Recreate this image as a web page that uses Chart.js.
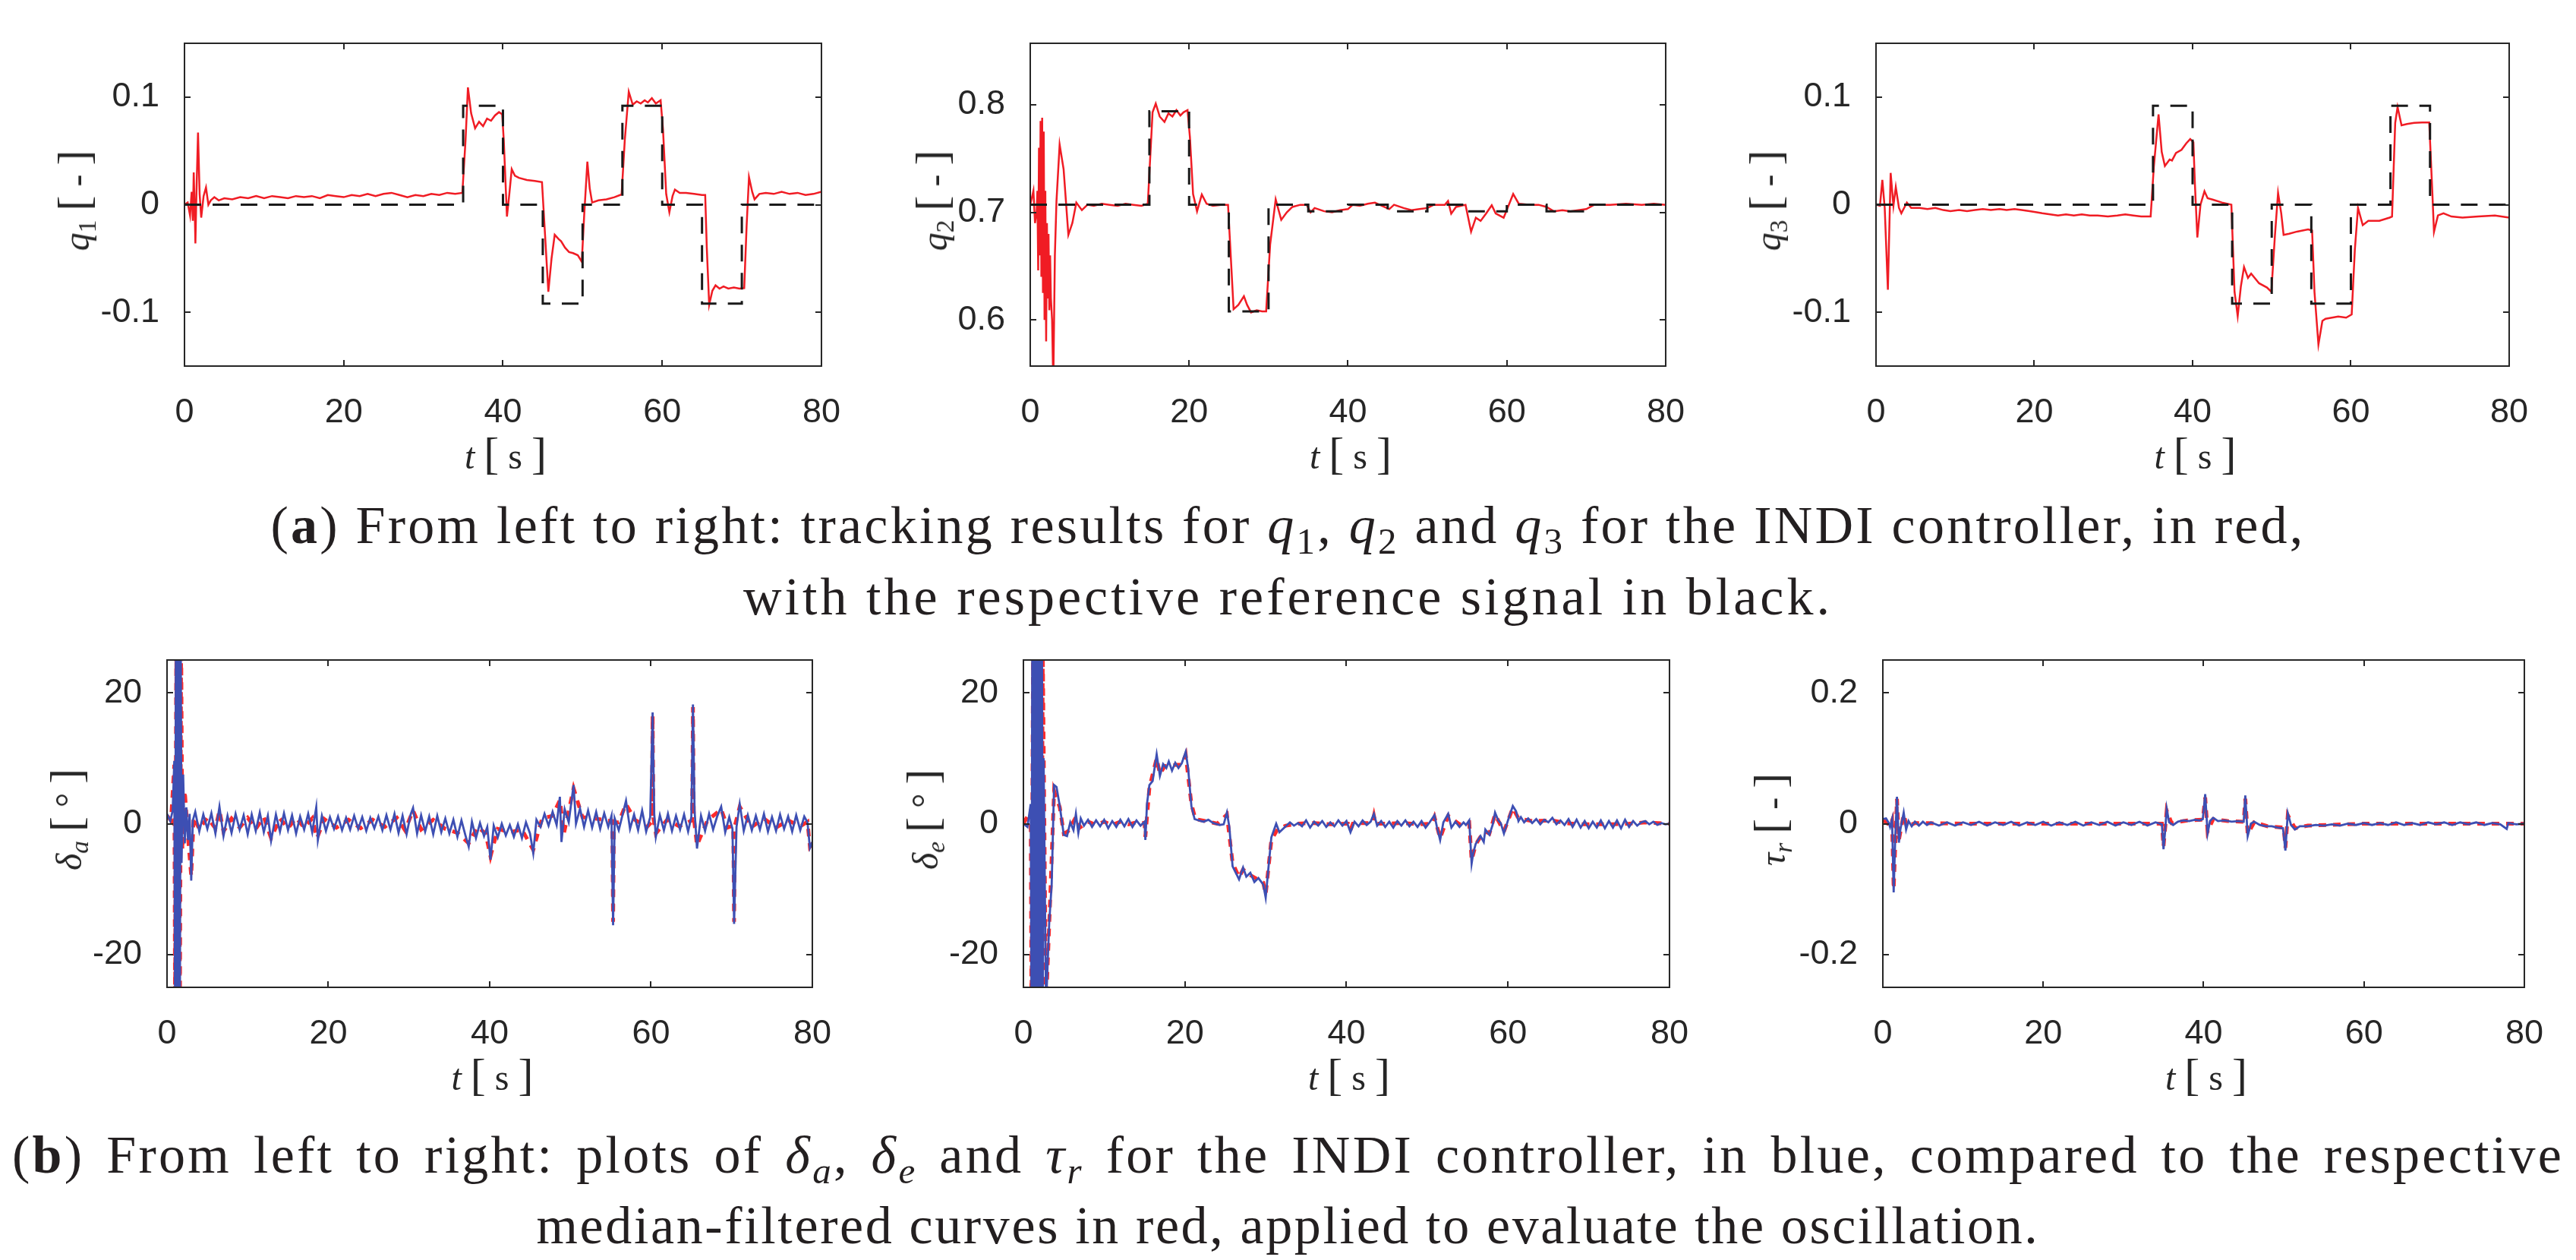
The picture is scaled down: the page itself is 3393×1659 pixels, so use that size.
<!DOCTYPE html>
<html>
<head>
<meta charset="utf-8">
<script src="https://cdn.jsdelivr.net/npm/chart.js@4.4.1/dist/chart.umd.min.js"></script>
<style>
  body { margin: 0; background: #fff; }
  #figure { position: relative; width: 3393px; height: 1659px; overflow: hidden; background: #fff; }
  canvas { position: absolute; }
  .axis-title {
    position: absolute;
    font-family: "Liberation Serif", "DejaVu Serif", serif;
    font-size: 48px;
    color: #262626;
    white-space: nowrap;
    line-height: 1;
  }
  .axis-title .br { font-size: 1.25em; font-weight: 300; }
  .axis-title sub, .caption-line sub {
    font-size: 0.7em;
    vertical-align: baseline;
    position: relative;
    top: 0.28em;
  }
  .caption-line {
    position: absolute;
    left: 0;
    width: 3393px;
    text-align: center;
    font-family: "Liberation Serif", "DejaVu Serif", serif;
    font-size: 70px;
    line-height: 94px;
    color: #231f20;
    white-space: nowrap;
  }
</style>
</head>
<body>
<div id="figure">
  <canvas id="q1Chart"></canvas>
  <canvas id="q2Chart"></canvas>
  <canvas id="q3Chart"></canvas>
  <canvas id="daChart"></canvas>
  <canvas id="deChart"></canvas>
  <canvas id="trChart"></canvas>

  <div class="caption-line" style="top:645px"><span data-width="2680">(<b>a</b>) From left to right: tracking results for <i>q</i><sub>1</sub>, <i>q</i><sub>2</sub> and <i>q</i><sub>3</sub> for the INDI controller, in red,</span></div>
  <div class="caption-line" style="top:739px"><span data-width="1435">with the respective reference signal in black.</span></div>
  <div class="caption-line" style="top:1474px"><span data-width="3361" data-justify="1">(<b>b</b>) From left to right: plots of <i>δ<sub>a</sub></i>, <i>δ<sub>e</sub></i> and <i>τ<sub>r</sub></i> for the INDI controller, in blue, compared to the respective</span></div>
  <div class="caption-line" style="top:1567px"><span data-width="1980">median-filtered curves in red, applied to evaluate the oscillation.</span></div>
</div>

<script>
const AXIS_COLOR = "#262626";
const TICK_LEN = 8;

// time axis, shared by all six panels
const T_MIN = 0;
const T_MAX = 80;
const T_TICKS = [0, 20, 40, 60, 80];

// y axes
const Q_RANGE = [-0.15, 0.15];
const Q_TICKS = [-0.1, 0, 0.1];
const Q_TICK_LABELS = ["-0.1", "0", "0.1"];
const Q2_RANGE = [0.5571, 0.8571];
const Q2_TICKS = [0.6, 0.7, 0.8];
const Q2_TICK_LABELS = ["0.6", "0.7", "0.8"];
const DEFL_RANGE = [-25, 25];
const DEFL_TICKS = [-20, 0, 20];
const DEFL_TICK_LABELS = ["-20", "0", "20"];
const TR_RANGE = [-0.25, 0.25];
const TR_TICKS = [-0.2, 0, 0.2];
const TR_TICK_LABELS = ["-0.2", "0", "0.2"];

// (a) tracking: [t, value]
const q1Reference = [[0,0],[35,0],[35,0.092],[40,0.092],[40,0],[45,0],[45,-0.092],[50,-0.092],[50,0],[55,0],[55,0.092],[60,0.092],[60,0],[65,0],[65,-0.092],[70,-0.092],[70,0],[80,0]];
const q1Measured = [[0,0],[0.4,0.002],[0.7,-0.01],[0.9,0.012],[1.05,-0.015],[1.16,0.03],[1.3,-0.01],[1.37,-0.036],[1.5,0.01],[1.7,0.067],[1.9,0.01],[2.1,-0.012],[2.4,0.008],[2.7,0.016],[3.0,0.0],[3.3,0.004],[3.75,0.007],[4.3,0.004],[5,0.006],[6,0.005],[7,0.007],[8,0.006],[9,0.008],[10,0.006],[11,0.008],[12,0.007],[13,0.006],[14,0.008],[15,0.007],[16,0.008],[17,0.006],[18,0.009],[19,0.008],[20,0.007],[21,0.009],[22,0.008],[23,0.01],[24,0.008],[25,0.01],[26,0.011],[27,0.009],[28,0.007],[29,0.009],[30,0.008],[31,0.01],[32,0.009],[33,0.011],[34,0.01],[34.9,0.011],[35.3,0.06],[35.6,0.109],[36.0,0.085],[36.5,0.071],[37,0.077],[37.5,0.073],[38,0.08],[38.5,0.078],[39,0.083],[39.5,0.086],[39.9,0.084],[40.1,0.06],[40.5,-0.011],[40.8,0.01],[41.1,0.033],[41.5,0.027],[42,0.025],[43,0.023],[44,0.022],[44.9,0.021],[45.3,-0.03],[45.7,-0.081],[46.1,-0.05],[46.5,-0.028],[47,-0.032],[47.3,-0.034],[47.8,-0.04],[48.3,-0.044],[48.8,-0.045],[49.4,-0.047],[49.9,-0.053],[50.2,-0.01],[50.6,0.04],[50.9,0.015],[51.2,0.002],[52,0.004],[53,0.005],[54,0.007],[54.9,0.0095],[55.3,0.06],[55.8,0.105],[56.3,0.093],[56.8,0.096],[57.3,0.094],[57.8,0.097],[58.2,0.095],[58.7,0.099],[59.2,0.094],[59.8,0.097],[60.1,0.07],[60.5,0.01],[60.9,-0.007],[61.3,0.008],[61.6,0.014],[62.2,0.011],[63,0.011],[64,0.01],[65,0.009],[65.4,0.009],[65.6,-0.04],[65.9,-0.093],[66.3,-0.08],[66.7,-0.075],[67.2,-0.078],[67.7,-0.076],[68.3,-0.078],[69,-0.077],[69.7,-0.078],[70.3,-0.0775],[70.6,-0.02],[70.9,0.0256],[71.3,0.012],[71.6,0.005],[72.2,0.01],[73,0.011],[74,0.01],[75,0.012],[76,0.01],[77,0.011],[78,0.009],[79,0.01],[80,0.012]];

const q2Reference = [[0,0.7071],[15,0.7071],[15,0.794],[20,0.794],[20,0.7071],[25,0.7071],[25,0.608],[30,0.608],[30,0.7071],[35,0.7071],[35,0.701],[40,0.701],[40,0.7071],[45,0.7071],[45,0.701],[50,0.701],[50,0.7071],[55,0.7071],[55,0.701],[60,0.701],[60,0.7071],[65,0.7071],[65,0.701],[70,0.701],[70,0.7071],[80,0.7071]];
const q2Measured = [[0,0.7071],[0.4,0.72],[0.6,0.69],[0.8,0.70],[0.9,0.72],[1.0,0.646],[1.1,0.76],[1.2,0.66],[1.3,0.785],[1.4,0.64],[1.5,0.788],[1.6,0.625],[1.7,0.775],[1.8,0.6],[1.9,0.72],[2.0,0.58],[2.1,0.69],[2.2,0.62],[2.3,0.68],[2.4,0.609],[2.5,0.66],[2.6,0.62],[2.75,0.6],[2.9,0.54],[3.1,0.66],[3.3,0.71],[3.7,0.763],[4.2,0.74],[4.8,0.679],[5.3,0.69],[5.8,0.709],[6.5,0.702],[7.2,0.707],[8,0.706],[9,0.708],[10,0.707],[11,0.706],[12,0.708],[13,0.707],[14,0.706],[14.8,0.708],[15.4,0.793],[15.8,0.801],[16.3,0.789],[16.9,0.784],[17.4,0.792],[17.9,0.789],[18.4,0.795],[18.9,0.79],[19.3,0.793],[19.8,0.795],[20.1,0.77],[20.5,0.717],[21,0.701],[21.6,0.7165],[22.2,0.708],[23,0.706],[24,0.707],[24.9,0.707],[25.6,0.61],[26.2,0.614],[26.9,0.622],[27.3,0.614],[27.8,0.607],[28.5,0.609],[29.2,0.608],[29.7,0.608],[30.2,0.67],[30.9,0.712],[31.6,0.693],[32.3,0.700],[33,0.705],[34,0.707],[34.8,0.707],[35.3,0.700],[35.8,0.704],[37,0.701],[38,0.700],[39,0.702],[40,0.703],[40.6,0.707],[41.5,0.706],[42.5,0.708],[43.4,0.709],[44.3,0.706],[45.2,0.703],[45.8,0.707],[47,0.704],[48,0.702],[49,0.703],[50,0.704],[50.8,0.707],[52.2,0.707],[52.6,0.7105],[53,0.6987],[53.6,0.705],[54.8,0.707],[55.5,0.682],[56.1,0.695],[56.7,0.692],[57.4,0.699],[58.1,0.7066],[58.6,0.699],[59.6,0.695],[60.8,0.717],[61.5,0.708],[63,0.707],[64,0.707],[65,0.705],[65.9,0.701],[67,0.702],[68,0.701],[69,0.702],[70,0.703],[71,0.707],[73,0.707],[75,0.708],[77,0.707],[78.5,0.708],[80,0.707]];

const q3Reference = [[0,0],[35,0],[35,0.092],[40,0.092],[40,0],[45,0],[45,-0.092],[50,-0.092],[50,0],[55,0],[55,-0.092],[60,-0.092],[60,0],[65,0],[65,0.092],[70,0.092],[70,0],[80,0]];
const q3Measured = [[0,0],[0.5,-0.001],[0.8,0.023],[1.1,-0.003],[1.5,-0.079],[1.85,0.0295],[2.2,-0.001],[2.5,0.0164],[2.9,-0.003],[3.2,-0.008],[3.9,0.002],[4.45,-0.003],[5.5,-0.003],[6.5,-0.004],[7.5,-0.003],[8.5,-0.005],[9.4,-0.006],[10.5,-0.005],[11.5,-0.006],[12.5,-0.005],[13.5,-0.004],[14.5,-0.005],[15.6,-0.004],[16.5,-0.005],[17.5,-0.004],[18.4,-0.005],[19.4,-0.006],[20.3,-0.007],[21,-0.008],[22,-0.009],[23,-0.01],[24,-0.009],[25,-0.01],[26,-0.009],[27,-0.01],[28,-0.01],[29.3,-0.011],[30.5,-0.010],[31.5,-0.009],[32.5,-0.010],[33.5,-0.011],[34.7,-0.011],[35.1,0.035],[35.7,0.084],[36.1,0.049],[36.5,0.036],[37.1,0.042],[37.4,0.041],[37.9,0.048],[38.6,0.051],[39.2,0.057],[39.7,0.061],[40.1,0.058],[40.3,0.018],[40.6,-0.0305],[41.0,0.0],[41.5,0.0125],[41.9,0.006],[42.6,0.0046],[43.7,0.002],[44.9,0.0],[45.3,-0.081],[45.7,-0.1035],[46.1,-0.076],[46.5,-0.058],[47,-0.068],[47.4,-0.064],[48.4,-0.073],[49.4,-0.077],[49.95,-0.081],[50.4,-0.029],[50.8,0.011],[51.2,-0.008],[51.5,-0.028],[52.2,-0.027],[53.2,-0.025],[54.6,-0.023],[55.1,-0.024],[55.4,-0.081],[55.9,-0.13],[56.4,-0.108],[56.8,-0.106],[57.6,-0.105],[58.4,-0.104],[59.4,-0.105],[60.1,-0.102],[60.5,-0.042],[60.9,-0.003],[61.5,-0.019],[62.2,-0.015],[63.6,-0.015],[64.9,-0.012],[65.2,-0.011],[65.6,0.076],[65.9,0.0907],[66.4,0.0738],[67.1,0.075],[68,0.076],[69,0.0764],[69.9,0.0764],[70.3,0.01],[70.5,-0.0253],[71,-0.01],[71.7,-0.008],[72.7,-0.011],[74.1,-0.012],[76.1,-0.011],[78.2,-0.01],[80,-0.012]];

// (b) control inputs: raw in blue, median-filtered in red, [t, value]
const daRaw = [[0,1.5],[0.4,0.4],[0.7,2],[0.9,9.6],[1.0,-28],[1.1,28],[1.2,-28],[1.3,28],[1.4,-28],[1.5,28],[1.6,-28],[1.7,28],[1.8,-6],[2.0,7.5],[2.2,-3],[2.4,2.5],[2.6,-2.5],[2.8,1.5],[3.0,-8.7],[3.2,0.5],[3.5,1.8],[4,-1.2],[4.5,1.4],[5,-0.8],[5.5,1.6],[6,-1.5],[6.5,2.6],[7,-1.9],[7.5,1.2],[8,-1.4],[8.5,1.5],[9,-0.9],[9.5,1.3],[10,-1.6],[10.5,1.4],[11,-1.1],[11.5,1.7],[12,-1.3],[12.5,1.2],[12.9,-2.6],[13.5,1.4],[14,-1.2],[14.5,1.6],[15,-1.0],[15.5,1.3],[16,-1.5],[16.5,1.1],[17,-0.9],[17.5,1.5],[18,-1.3],[18.5,2.5],[18.7,-2.5],[19.2,1.2],[19.7,-1.1],[20.2,1.0],[20.7,-0.8],[21.2,1.1],[21.7,-1.0],[22.2,0.9],[22.7,-0.9],[23.2,1.2],[23.7,-0.8],[24.2,1.0],[24.7,-1.1],[25.2,0.9],[25.7,-0.7],[26.2,1.1],[26.7,-1.0],[27.2,1.3],[27.7,-0.9],[28.2,1.5],[28.7,-1.4],[29.2,1.2],[29.7,-1.6],[30.2,1.4],[30.5,2.4],[31,-1.5],[31.5,1.3],[32,-1.2],[32.5,1.1],[33,-1.6],[33.5,1.2],[34,-1.3],[34.5,0.8],[35,-1.5],[35.5,0.6],[36,-2.0],[36.5,0.5],[37,-1.8],[37.4,-3.5],[37.8,0.3],[38.3,-2.2],[38.8,0.1],[39.3,-1.9],[39.7,-0.5],[40.1,-5.5],[40.5,-0.3],[41,-2.1],[41.5,0],[42,-1.8],[42.5,-0.2],[43,-2.0],[43.5,-0.1],[44,-2.2],[44.5,0.2],[45,-1.5],[45.4,-4.5],[45.8,0.6],[46.3,-0.5],[46.8,1.5],[47.3,-0.3],[47.8,1.8],[48.3,-0.2],[48.7,4.1],[48.9,-2.8],[49.3,2.2],[49.8,0.2],[50.4,5.9],[50.7,0],[51.2,2.3],[51.7,-0.5],[52.2,2.0],[52.7,-0.6],[53.2,1.8],[53.7,-0.8],[54.2,1.6],[54.7,-0.5],[55.1,1.2],[55.3,-15.5],[55.5,0.8],[56,-1.0],[56.5,1.5],[56.9,3.5],[57.4,-0.8],[57.9,1.4],[58.4,-1.0],[58.9,2.0],[59.4,-1.2],[59.9,1.0],[60.2,17],[60.4,1.5],[60.6,-2],[61.1,1.3],[61.6,-1.0],[62.1,1.5],[62.6,-1.1],[63.1,1.2],[63.6,-0.9],[64.1,1.4],[64.6,-1.2],[65,1.0],[65.2,18.2],[65.4,2],[65.7,-3.8],[66.2,1.2],[66.7,-1.1],[67.2,1.5],[67.7,-0.9],[68.2,1.1],[68.7,2.6],[69.2,-1.3],[69.7,1.0],[70.1,-0.8],[70.3,-15.3],[70.6,-0.5],[71,3.0],[71.5,-1.1],[72,1.3],[72.5,-1.0],[73,1.2],[73.5,-0.9],[74,1.5],[74.5,-1.2],[75,1.0],[75.5,-1.1],[76,1.4],[76.5,-0.8],[77,1.1],[77.5,-1.2],[78,1.3],[78.5,-1.0],[79,1.1],[79.4,0.2],[79.7,-3.7],[80,-2.8]];
const daFiltered = [[0,1.2],[0.5,0.5],[0.9,9],[1.0,-28],[1.15,28],[1.3,-28],[1.45,28],[1.6,-28],[1.75,28],[1.9,-4],[2.2,5],[2.6,-2],[3.0,-8],[3.3,1],[4,-0.8],[5,0.9],[6,-0.7],[6.5,2.0],[7,-1.2],[8,0.8],[9,-0.6],[10,0.9],[11,-0.8],[12,1.0],[12.9,-2.2],[14,0.8],[15,-0.7],[16,0.9],[17,-0.6],[18,0.8],[18.6,-2.2],[19.5,0.7],[21,-0.6],[22.5,0.6],[24,-0.7],[25.5,0.6],[27,-0.5],[28.5,0.9],[29.5,-1.0],[30.5,2.0],[31.5,-0.9],[33,0.6],[34.5,-0.8],[36,-1.4],[37.4,-3.0],[38.5,-0.5],[39.5,-1.5],[40.1,-5.0],[41,-0.8],[42.5,-1.3],[44,-0.9],[45.4,-4.0],[46.5,0.8],[47.8,1.2],[48.7,3.6],[49.2,-1.5],[50.4,5.4],[51.5,1.0],[53,0.8],[54.5,0.5],[55.2,0.4],[55.3,-15],[55.4,0.2],[56,0.2],[56.9,3.0],[58,0.6],[59.5,-0.5],[60.1,0.3],[60.2,16.5],[60.3,0.8],[60.6,-1.5],[62,0.6],[63.5,-0.4],[65.1,0.5],[65.2,17.8],[65.3,1.0],[65.7,-3.3],[67,0.5],[68.7,2.2],[69.5,-0.6],[70.2,-0.3],[70.3,-15],[70.4,-0.3],[71,2.6],[72.5,-0.5],[74,0.8],[75.5,-0.6],[77,0.5],[78.5,-0.4],[79.4,0.3],[79.7,-3.5],[80,-3]];

const deRaw = [[0,0],[0.5,-0.5],[0.9,3],[1.0,-28],[1.1,28],[1.2,-28],[1.3,28],[1.4,-28],[1.5,28],[1.6,-28],[1.7,28],[1.8,-28],[1.9,28],[2.0,-28],[2.1,28],[2.2,-28],[2.3,28],[2.4,-28],[2.5,10],[2.8,-28],[3.2,-15],[3.5,-9.3],[3.7,1],[3.8,5.9],[4.1,5.6],[4.5,2.7],[5,-1.7],[5.4,-1.9],[5.8,0.2],[6.2,-1.0],[6.5,1.5],[6.8,-1.4],[7.1,0.8],[7.5,-0.3],[8,0.6],[8.5,-0.5],[9,0.5],[9.5,-0.4],[10,0.6],[10.5,-0.7],[11,0.4],[11.5,-0.5],[12,0.6],[12.5,-0.4],[13,0.7],[13.5,-0.5],[14,0.5],[14.5,-0.3],[15.0,0.3],[15.1,-2.5],[15.3,3],[15.6,5.9],[16.0,6.5],[16.5,10.6],[16.9,7.3],[17.3,9.1],[17.7,8.5],[18.0,9.5],[18.4,8.1],[18.8,9.3],[19.2,8.5],[19.6,9.2],[20.1,11],[20.4,8.4],[20.8,2.7],[21.2,0.7],[21.7,0.5],[22.3,0.3],[22.9,0.6],[23.5,0.1],[24.3,-0.2],[24.8,-0.1],[25.2,1.7],[25.5,-0.5],[25.9,-6.5],[26.3,-7.5],[26.7,-8.5],[27.2,-6.7],[27.6,-8.1],[28.1,-7.5],[28.6,-8.9],[29.1,-8.3],[29.7,-9.3],[30.0,-11.3],[30.3,-7.3],[30.7,-2.1],[31.3,0],[31.7,-1.3],[32.3,-0.6],[33,0.2],[33.5,-0.3],[34,0.1],[34.5,-0.4],[35,0.5],[35.5,-0.6],[36,0.3],[36.5,-0.3],[37,0.4],[37.5,-0.5],[38,0.2],[38.5,-0.4],[39,0.5],[39.5,-0.3],[40,0.4],[40.5,-1.3],[41,0.3],[41.5,-0.4],[42,0.5],[42.5,-0.2],[43,0.3],[43.4,1.5],[43.8,-0.3],[44.3,0.4],[44.8,-0.5],[45.3,0.3],[45.8,-0.6],[46.3,0.4],[46.8,-0.3],[47.3,0.5],[47.8,-0.4],[48.3,0.3],[48.8,-0.5],[49.3,0.4],[49.8,-0.6],[50.3,0.2],[50.9,1.3],[51.2,-0.5],[51.6,-2.5],[52,0.2],[52.6,1.5],[53,-0.6],[53.5,0.3],[54,-0.5],[54.5,0.2],[54.8,-0.2],[55.2,0.5],[55.5,-6.1],[55.7,-4.5],[56,-3.1],[56.3,-2.5],[56.6,-1.9],[57.0,-2.8],[57.2,-0.9],[57.7,-1.7],[58.1,-0.2],[58.4,1.7],[58.8,0.5],[59.1,0.1],[59.5,-1.5],[60,0.5],[60.3,1.6],[60.6,2.7],[61,1.9],[61.3,0.4],[61.6,1.0],[62,0.2],[62.5,0.8],[63,0.1],[63.5,0.7],[64,-0.1],[64.5,0.6],[65,0.2],[65.5,0.9],[66,-0.1],[66.5,0.5],[67,-0.2],[67.5,0.7],[68,-0.5],[68.5,0.6],[69,-0.6],[69.5,0.4],[70,-0.7],[70.5,0.3],[71,-0.6],[71.5,0.5],[72,-0.7],[72.5,0.4],[73,-0.6],[73.5,0.5],[74,-0.7],[74.5,0.6],[75,-0.5],[75.5,0.4],[76,-0.3],[76.5,0.2],[77,0.4],[77.5,-0.1],[78,0.3],[78.5,-0.2],[79,0.1],[79.5,-0.1],[80,0]];
const deFiltered = [[0,0],[0.9,2],[1.0,-28],[1.2,28],[1.4,-28],[1.6,28],[1.8,-28],[2.0,28],[2.2,-28],[2.4,26],[2.8,-28],[3.3,-12],[3.8,5],[4.5,2.5],[5,-1.5],[5.5,-1.2],[6.5,1.0],[7,-0.6],[8,0.3],[9,-0.2],[10,0.3],[11,-0.2],[12,0.3],[13,-0.1],[14,0.2],[15.0,0.1],[15.1,-2],[15.6,5.5],[16.5,10],[16.9,7.6],[17.5,8.8],[18.2,8.9],[19,9.0],[19.6,9.0],[20.1,10.5],[20.8,3],[21.3,0.7],[22.5,0.4],[24,0],[25.2,1.4],[25.9,-6],[26.7,-8.2],[27.2,-7],[28,-7.8],[29,-8.5],[29.7,-9],[30,-10.8],[30.7,-2.5],[31.5,-0.8],[32.5,-0.3],[34,0],[36,0.1],[38,-0.1],[40.2,0],[40.5,-1],[40.8,0],[42,0.1],[43.2,0.1],[43.4,1.2],[43.6,0],[45,0],[47,0.1],[49,-0.1],[50.6,0],[50.9,1.0],[51.6,-2.2],[52.6,1.2],[54,-0.1],[55.2,0.2],[55.5,-5.6],[56,-3.2],[56.6,-2],[57.2,-1.2],[57.7,-1.5],[58.4,1.4],[59.5,-1.2],[60.6,2.4],[61.3,0.8],[63,0.4],[65.5,0.5],[67,0.1],[69,-0.1],[71,-0.1],[73,-0.1],[75,0],[77,0.2],[80,0]];

const trRaw = [[0,0.007],[0.4,0.008],[0.7,0.002],[0.9,-0.005],[1.15,0.007],[1.35,-0.105],[1.55,-0.02],[1.76,0.041],[2.0,-0.029],[2.2,-0.008],[2.6,0.017],[2.9,-0.009],[3.2,0.004],[3.6,-0.004],[4,0.003],[4.5,-0.003],[5,0.003],[5.5,-0.002],[6,0.002],[7,-0.003],[8,0.002],[9,-0.003],[10,0.002],[11,-0.002],[12,0.003],[13,-0.003],[14,0.002],[15,-0.002],[16,0.003],[17,-0.003],[18,0.002],[19,-0.002],[20,0.003],[21,-0.003],[22,0.002],[23,-0.002],[24,0.003],[25,-0.003],[26,0.002],[27,-0.002],[28,0.003],[29,-0.003],[30,0.002],[31,-0.002],[32,0.003],[33,-0.003],[34,0.002],[34.8,-0.001],[35.0,-0.039],[35.2,-0.012],[35.4,0.023],[35.7,0.002],[36.2,-0.002],[36.8,0.003],[37.5,0.005],[38.2,0.004],[38.9,0.006],[39.5,0.005],[39.9,0.007],[40.2,0.045],[40.5,-0.015],[40.8,0.004],[41.2,0.009],[41.8,0.004],[42.6,0.005],[43.5,0.003],[44.3,0.004],[45,0.003],[45.2,0.043],[45.5,-0.019],[45.9,0.0],[46.3,0.003],[47,-0.002],[47.8,-0.004],[48.5,-0.004],[49.2,-0.006],[49.9,-0.007],[50.2,-0.041],[50.5,0.016],[50.9,-0.002],[51.4,-0.009],[52,-0.004],[53,-0.004],[54,-0.002],[55,-0.003],[56,-0.001],[57,-0.003],[58,0.0],[59,-0.002],[60,0.001],[61,-0.002],[62,0.001],[63,-0.002],[64,0.002],[65,-0.002],[66,0.001],[67,-0.002],[68,0.002],[69,-0.001],[70,0.002],[71,-0.002],[72,0.002],[73,-0.001],[74,0.002],[75,-0.002],[76,0.001],[77,-0.001],[77.8,-0.008],[78,0.001],[79,-0.001],[80,0.0]];
const trFiltered = [[0,0.006],[0.9,-0.003],[1.15,0.005],[1.35,-0.1],[1.76,0.038],[2.0,-0.025],[2.6,0.014],[3,-0.005],[4,0.001],[10,0],[20,0],[30,0],[34.8,0],[35.0,-0.035],[35.4,0.02],[36,0.001],[38,0.005],[39.9,0.006],[40.2,0.04],[40.5,-0.012],[41.2,0.007],[43,0.004],[45,0.003],[45.2,0.038],[45.5,-0.016],[46.3,0.002],[48,-0.004],[50,-0.006],[50.2,-0.037],[50.5,0.013],[51.4,-0.007],[53,-0.003],[60,0],[70,0],[80,0]];

// plot-area boxes of the six panels in the figure (px)
const PANELS = {
  q1Chart: { left: 243, right: 1089, top: 45, bottom: 482, yTitleGap: 146 },
  q2Chart: { left: 1357, right: 2201, top: 45, bottom: 482, yTitleGap: 130 },
  q3Chart: { left: 2471, right: 3312, top: 45, bottom: 482, yTitleGap: 146 },
  daChart: { left: 220, right: 1077, top: 857, bottom: 1300, yTitleGap: 133 },
  deChart: { left: 1348, right: 2206, top: 857, bottom: 1300, yTitleGap: 133 },
  trChart: { left: 2480, right: 3332, top: 857, bottom: 1300, yTitleGap: 149 },
};

const Y_AXIS_W = 170;
const X_AXIS_H = 100;
const PAD_TOP = 40;
const PAD_RIGHT = 45;

const toXY = (pairs) => pairs.map(([x, y]) => ({ x, y }));

// MATLAB style box with inward ticks on all four sides
const boxPlugin = {
  id: "matlabBox",
  afterDatasetsDraw(chart) {
    const { ctx, chartArea: a, scales } = chart;
    ctx.save();
    ctx.strokeStyle = AXIS_COLOR;
    ctx.lineWidth = 2;
    ctx.beginPath();
    scales.x.ticks.forEach((t) => {
      const px = Math.round(scales.x.getPixelForValue(t.value));
      ctx.moveTo(px, a.bottom);
      ctx.lineTo(px, a.bottom - TICK_LEN);
      ctx.moveTo(px, a.top);
      ctx.lineTo(px, a.top + TICK_LEN);
    });
    scales.y.ticks.forEach((t) => {
      const py = Math.round(scales.y.getPixelForValue(t.value));
      ctx.moveTo(a.left, py);
      ctx.lineTo(a.left + TICK_LEN, py);
      ctx.moveTo(a.right, py);
      ctx.lineTo(a.right - TICK_LEN, py);
    });
    ctx.stroke();
    ctx.strokeRect(a.left, a.top, a.right - a.left, a.bottom - a.top);
    ctx.restore();
  },
};

const tickFont = { family: "'Liberation Sans', Arial, sans-serif", size: 45 };

const makePanel = (id, range, ticks, tickLabels, datasets) => {
  const p = PANELS[id];
  const canvas = document.getElementById(id);
  const w = p.right - p.left + Y_AXIS_W + PAD_RIGHT;
  const h = p.bottom - p.top + PAD_TOP + X_AXIS_H;
  canvas.width = w;
  canvas.height = h;
  canvas.style.width = w + "px";
  canvas.style.height = h + "px";
  canvas.style.left = p.left - Y_AXIS_W + "px";
  canvas.style.top = p.top - PAD_TOP + "px";

  new Chart(canvas, {
    type: "line",
    data: { datasets },
    options: {
      responsive: false,
      animation: false,
      events: [],
      layout: { padding: { top: PAD_TOP, right: PAD_RIGHT, left: 0, bottom: 0 } },
      elements: { point: { radius: 0 }, line: { tension: 0 } },
      plugins: { legend: { display: false }, tooltip: { enabled: false } },
      scales: {
        x: {
          type: "linear",
          min: T_MIN,
          max: T_MAX,
          afterBuildTicks: (scale) => {
            scale.ticks = T_TICKS.map((value) => ({ value }));
          },
          afterFit: (scale) => {
            scale.height = X_AXIS_H;
          },
          grid: { display: false },
          border: { display: false },
          ticks: { font: tickFont, color: AXIS_COLOR, padding: 27, maxRotation: 0, autoSkip: false },
        },
        y: {
          type: "linear",
          min: range[0],
          max: range[1],
          afterBuildTicks: (scale) => {
            scale.ticks = ticks.map((value) => ({ value }));
          },
          afterFit: (scale) => {
            scale.width = Y_AXIS_W;
          },
          grid: { display: false },
          border: { display: false },
          ticks: {
            font: tickFont,
            color: AXIS_COLOR,
            padding: 25,
            autoSkip: false,
            callback: (value) => tickLabels[ticks.indexOf(value)] ?? "",
          },
        },
      },
    },
    plugins: [boxPlugin],
  });
};

// top row: black dashed reference above the red response
const refLine = (pairs) => ({
  data: toXY(pairs),
  borderColor: "#1a1a1a",
  borderWidth: 3,
  borderDash: [22, 15],
});
const respLine = (pairs) => ({
  data: toXY(pairs),
  borderColor: "#f01c24",
  borderWidth: 2.5,
});

// bottom row: blue raw input on top of the wider red dashed filtered curve
const rawLine = (pairs) => ({
  data: toXY(pairs),
  borderColor: "#3d4fb3",
  borderWidth: 2.8,
});
const filtLine = (pairs) => ({
  data: toXY(pairs),
  borderColor: "#ff2a2a",
  borderWidth: 5,
  borderDash: [10, 9],
});

makePanel("q1Chart", Q_RANGE, Q_TICKS, Q_TICK_LABELS, [refLine(q1Reference), respLine(q1Measured)]);
makePanel("q2Chart", Q2_RANGE, Q2_TICKS, Q2_TICK_LABELS, [refLine(q2Reference), respLine(q2Measured)]);
makePanel("q3Chart", Q_RANGE, Q_TICKS, Q_TICK_LABELS, [refLine(q3Reference), respLine(q3Measured)]);
makePanel("daChart", DEFL_RANGE, DEFL_TICKS, DEFL_TICK_LABELS, [rawLine(daRaw), filtLine(daFiltered)]);
makePanel("deChart", DEFL_RANGE, DEFL_TICKS, DEFL_TICK_LABELS, [rawLine(deRaw), filtLine(deFiltered)]);
makePanel("trChart", TR_RANGE, TR_TICKS, TR_TICK_LABELS, [rawLine(trRaw), filtLine(trFiltered)]);

// axis titles as text overlays (subscripts need mixed fonts)
const Y_TITLES = {
  q1Chart: '<i>q</i><sub>1</sub> <span class="br">[</span> - <span class="br">]</span>',
  q2Chart: '<i>q</i><sub>2</sub> <span class="br">[</span> - <span class="br">]</span>',
  q3Chart: '<i>q</i><sub>3</sub> <span class="br">[</span> - <span class="br">]</span>',
  daChart: '<i>δ<sub>a</sub></i> <span class="br">[</span> ° <span class="br">]</span>',
  deChart: '<i>δ<sub>e</sub></i> <span class="br">[</span> ° <span class="br">]</span>',
  trChart: '<i>τ<sub>r</sub></i> <span class="br">[</span> - <span class="br">]</span>',
};
const X_TITLE = '<i>t</i> <span class="br">[</span> s <span class="br">]</span>';

const fig = document.getElementById("figure");
Object.entries(PANELS).forEach(([id, p]) => {
  const xt = document.createElement("div");
  xt.className = "axis-title";
  xt.innerHTML = X_TITLE;
  xt.style.left = (p.left + p.right) / 2 + "px";
  xt.style.top = p.bottom + 115 + "px";
  xt.style.transform = "translate(-50%, -50%)";
  fig.appendChild(xt);

  const yt = document.createElement("div");
  yt.className = "axis-title";
  yt.innerHTML = Y_TITLES[id];
  yt.style.left = p.left - p.yTitleGap + "px";
  yt.style.top = (p.top + p.bottom) / 2 + "px";
  yt.style.transform = "translate(-50%, -50%) rotate(-90deg)";
  fig.appendChild(yt);
});

// stretch caption lines to the widths they have in the printed figure
const fitCaptions = () => {
  let baseSpacing = 0;
  document.querySelectorAll(".caption-line span[data-width]").forEach((span) => {
    const target = Number(span.dataset.width);
    span.style.letterSpacing = "0px";
    span.style.wordSpacing = "0px";
    const natural = span.getBoundingClientRect().width;
    const chars = span.textContent.length;
    if (span.dataset.justify) {
      // justified line: same letter spacing as the others, rest goes to word gaps
      span.style.letterSpacing = baseSpacing + "px";
      const spaced = span.getBoundingClientRect().width;
      const gaps = (span.textContent.match(/ /g) || []).length;
      span.style.wordSpacing = Math.max(0, (target - spaced) / gaps) + "px";
    } else {
      const ls = Math.max(0, (target - natural) / chars);
      if (!baseSpacing) baseSpacing = ls;
      span.style.letterSpacing = ls + "px";
    }
  });
};
fitCaptions();
if (document.fonts && document.fonts.ready) document.fonts.ready.then(fitCaptions);
</script>
</body>
</html>
